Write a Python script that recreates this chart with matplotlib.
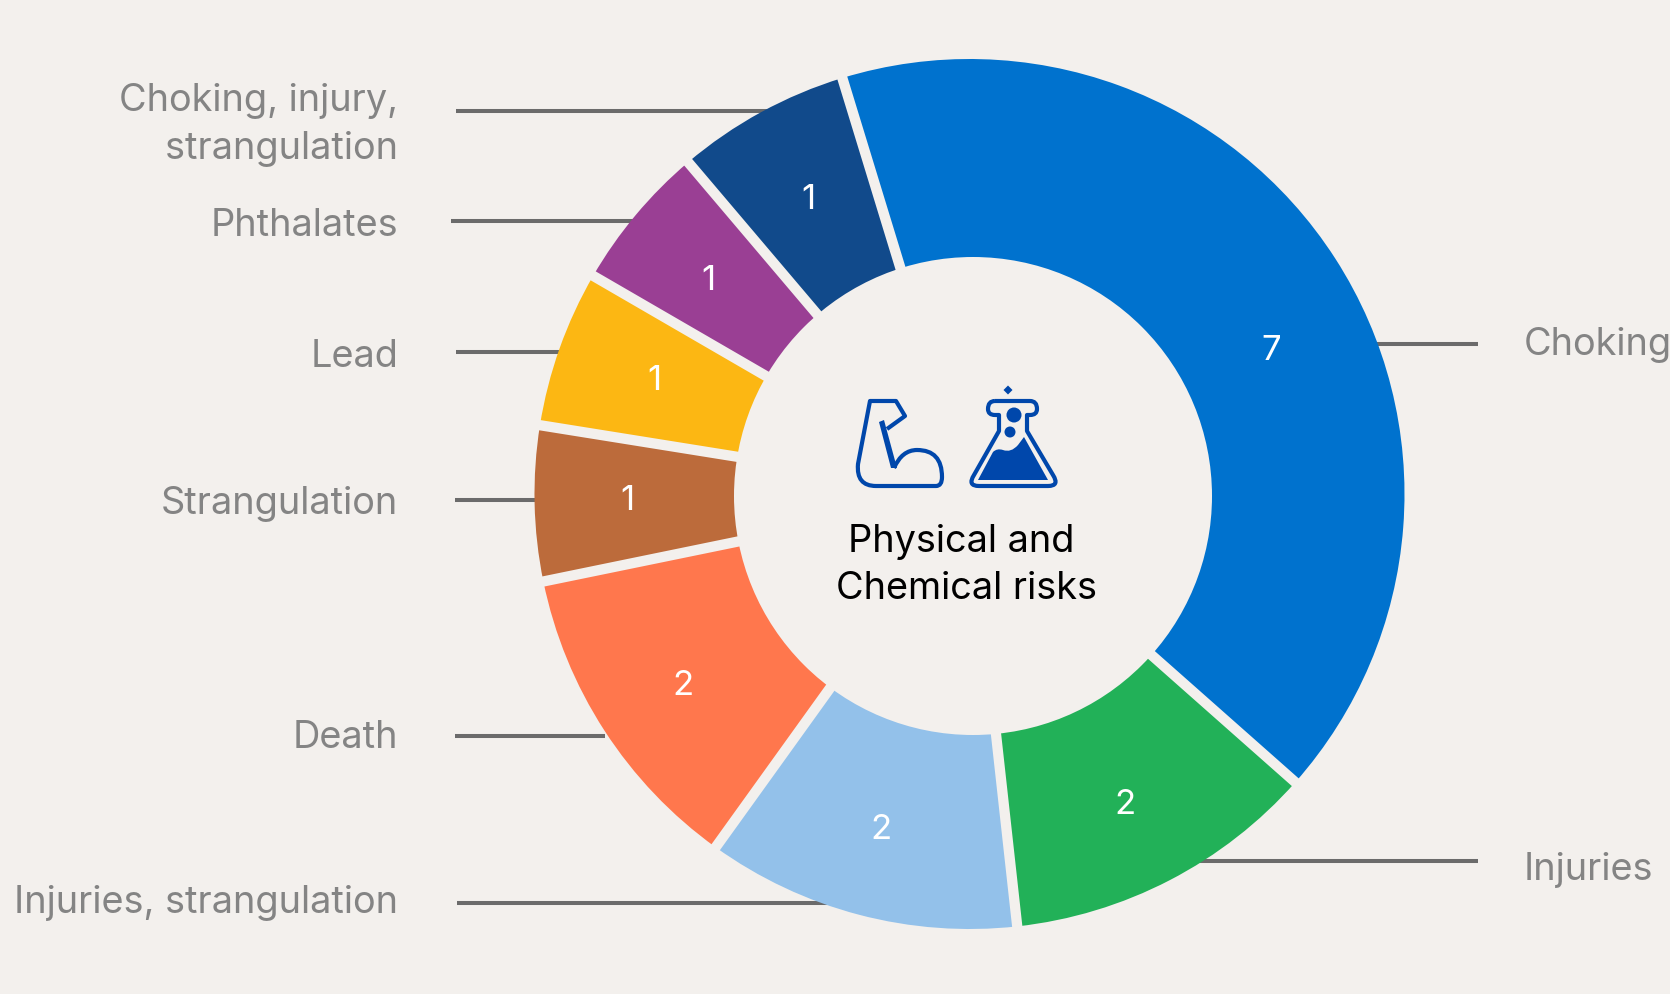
import math
import matplotlib
matplotlib.use("Agg")
import matplotlib.pyplot as plt
import matplotlib.patches as mp
from matplotlib.path import Path
from matplotlib.patches import PathPatch, Circle

W, H = 1670, 995
BG = "#f3f0ed"
values = [7, 2, 2, 2, 1, 1, 1, 1]
# arc extents as measured in the picture (clockwise degrees); the slices are not exactly proportional
arc_degrees = [148.5, 42.2, 42.0, 42.7, 20.7, 21.0, 19.6, 23.3]
colors = ["#0072ce", "#22b158", "#93c1ea", "#ff774d", "#bc6b3b", "#fcb713", "#9a3f94", "#114a8b"]
label_angle_shift = [6.5, 0.4, 0.3, 0, 1, 1, 0, 0.4]
label_radius = [336, 342, 342, 342, 342, 337, 341, 341]
left_labels = ["Choking, injury,\nstrangulation", "Phthalates", "Lead", "Strangulation", "Death", "Injuries, strangulation"]
left_label_y = [125, 226, 357, 504, 738, 903]
left_line = [(456, 790, 112), (451, 660, 222), (456, 580, 353), (455, 560, 501), (455, 605, 737), (457, 850, 904)]
right_labels = ["Choking", "Injuries"]
right_label_y = [345, 870]
right_line = [(1360, 1478, 345), (1170, 1478, 862)]

fig = plt.figure(figsize=(W / 100, H / 100), dpi=100, facecolor=BG)
ax = fig.add_axes([0, 0, 1, 1])
ax.set_xlim(0, W)
ax.set_ylim(H, 0)
ax.axis("off")

cx, cy, R = 969.5, 495, 435
hole_x, hole_y, hole_r = 973, 497, 239
angle = -17.0  # clockwise from 12 o'clock
for v, sweep, c, shift, rt in zip(values, arc_degrees, colors, label_angle_shift, label_radius):
    a0 = angle - 90
    a1 = a0 + sweep
    ax.add_patch(mp.Wedge((cx, cy), R, a0, a1, fc=c, ec="none", zorder=2))
    # gap between slices, drawn along the slice's leading edge
    ca, sa = math.cos(math.radians(a0)), math.sin(math.radians(a0))
    ax.plot([cx, cx + (R + 6) * ca], [cy, cy + (R + 6) * sa], color=BG, lw=7.4, zorder=3, solid_capstyle="butt")
    mid = (a0 + a1) / 2 + shift
    ax.text(cx + rt * math.cos(math.radians(mid)), cy + 5 + rt * math.sin(math.radians(mid)), str(v),
            color="white", fontsize=25, ha="center", va="center", family="Inter", zorder=6)
    angle += sweep
ax.add_patch(Circle((hole_x, hole_y), hole_r, fc=BG, ec="none", zorder=4))

line_c = "#6b6b6b"
txt_c = "#848484"
for (x0, x1, y) in left_line + right_line:
    ax.plot([x0, x1], [y, y], color=line_c, lw=2.9, zorder=1, solid_capstyle="butt")
for s, y in zip(left_labels, left_label_y):
    ax.text(398, y, s, color=txt_c, fontsize=27.3, ha="right", va="center", family="Inter", linespacing=1.42)
for s, y in zip(right_labels, right_label_y):
    ax.text(1524, y, s, color=txt_c, fontsize=27.3, ha="left", va="center", family="Inter", clip_on=True)

ax.text(961, 542, "Physical and", color="black", fontsize=27.3, ha="center", va="center", family="Inter", zorder=5)
ax.text(966, 589, "Chemical risks", color="black", fontsize=27.3, ha="center", va="center", family="Inter", zorder=5)

blue = "#0047ab"
C3 = Path.CURVE3
M, L = Path.MOVETO, Path.LINETO
# muscle icon
ax.add_patch(PathPatch(Path(
    [(894, 469), (902, 451), (917, 451), (942, 451), (942, 478), (942, 487), (936, 487),
     (876, 487), (856, 487), (858, 465), (870, 402), (896, 402), (905, 417), (887, 430)],
    [M, C3, C3, C3, C3, C3, C3, L, C3, C3, L, L, L, L]), fc="none", ec=blue, lw=3.0, zorder=5, joinstyle="round"))
ax.add_patch(PathPatch(Path([(879, 423), (884, 421), (897, 469), (891, 469), (879, 423)], [M, L, L, L, L]),
                       fc=blue, ec="none", zorder=5))
# flask icon
ax.add_patch(PathPatch(Path(
    [(995, 402), (1030, 402), (1037, 402), (1037, 410), (1037, 416), (1030, 416), (1027, 416), (1027, 425), (1027, 432),
     (1053, 476), (1060, 487), (1048, 487), (979, 487), (967, 487), (974, 476), (999, 432), (999, 425), (999, 416), (995, 416),
     (988, 416), (988, 410), (988, 402), (995, 402)],
    [M, L, C3, C3, C3, C3, L, L, L, L, C3, C3, L, C3, C3, L, L, L, L, C3, C3, C3, C3]),
    fc="none", ec=blue, lw=3.0, zorder=5, joinstyle="round"))
ax.add_patch(PathPatch(Path(
    [(978, 481), (993, 453), (997, 449), (1003, 451), (1011, 454), (1018, 446), (1024, 438), (1048, 481), (978, 481)],
    [M, L, C3, C3, C3, C3, L, L, L]), fc=blue, ec="none", zorder=5))
ax.add_patch(Circle((1014, 416), 7.5, fc=blue, ec="none", zorder=5))
ax.add_patch(Circle((1010, 433), 5.5, fc=blue, ec="none", zorder=5))
ax.add_patch(PathPatch(Path([(1008, 386.5), (1012.5, 391), (1008, 395.5), (1003.5, 391), (1008, 386.5)], [M, L, L, L, L]),
                       fc=blue, ec="none", zorder=5))

fig.savefig("out.png", dpi=100, facecolor=BG)
